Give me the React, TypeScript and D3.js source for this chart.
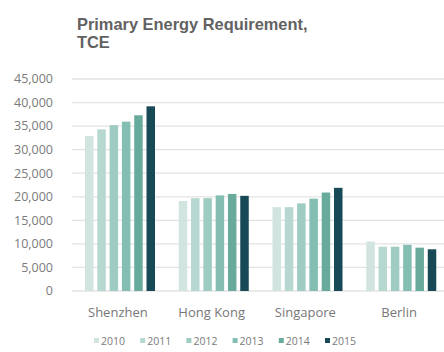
import React from "react";
import * as d3 from "d3";

const cities = ["Shenzhen", "Hong Kong", "Singapore", "Berlin"];
const years = ["2010", "2011", "2012", "2013", "2014", "2015"];
const v2010 = [32900, 19100, 17800, 10500];
const v2011 = [34300, 19700, 17800, 9400];
const v2012 = [35200, 19700, 18600, 9400];
const v2013 = [35950, 20300, 19600, 9800];
const v2014 = [37300, 20600, 20900, 9200];
const v2015 = [39200, 20200, 21900, 8850];
const yTicks = [0, 5000, 10000, 15000, 20000, 25000, 30000, 35000, 40000, 45000];
const colors = ["#d2e4e0", "#b7d7d1", "#9ecbc2", "#84bdb1", "#68ab9d", "#174a56"];

const series = [v2010, v2011, v2012, v2013, v2014, v2015];

export default function App() {
  const W = 444, H = 352;
  const x0 = d3.scaleBand<string>().domain(cities).range([72, 447]).padding(0);
  const x1 = d3.scaleBand<string>().domain(years).range([13, 83]).paddingInner(0.31).paddingOuter(0);
  const y = d3.scaleLinear().domain([0, 45000]).range([291, 79]);
  const fmt = d3.format(",");
  const color = d3.scaleOrdinal<string, string>().domain(years).range(colors);
  const legendX = d3.scalePoint<string>().domain(years).range([96, 327]);

  return (
    <svg width={W} height={H} style={{ position: "absolute", left: 0, top: 0, background: "#fff" }}>
      <text x={77} y={30} fontFamily="Liberation Sans, Arial, sans-serif" fontWeight="bold" fontSize={16.4} fill="#626262">
        Primary Energy Requirement,
      </text>
      <text x={77} y={47.5} fontFamily="Liberation Sans, Arial, sans-serif" fontWeight="bold" fontSize={16.4} fill="#626262">
        TCE
      </text>
      {yTicks.map((t) => (
        <g key={t}>
          <line x1={72} x2={444} y1={y(t)} y2={y(t)} stroke="#e3e3e3" strokeWidth={1.3} />
          <text x={53} y={y(t)} dy="0.35em" textAnchor="end" fontFamily="Open Sans, sans-serif" fontSize={12.5} fill="#7a7a7a">
            {fmt(t)}
          </text>
        </g>
      ))}
      {cities.map((c, ci) => (
        <g key={c} transform={`translate(${x0(c)},0)`}>
          {years.map((yr, yi) => {
            const v = series[yi][ci];
            return (
              <rect key={yr} x={x1(yr)} y={y(v)} width={x1.bandwidth()} height={y(0) - y(v)} fill={color(yr)} />
            );
          })}
          <text x={x0.bandwidth() / 2 - 1} y={317} textAnchor="middle" fontFamily="Open Sans, sans-serif" fontSize={13} fill="#777">
            {c}
          </text>
        </g>
      ))}
      {years.map((yr) => (
        <g key={yr} transform={`translate(${legendX(yr)},341)`}>
          <rect x={-2} y={-3} width={5} height={5} fill={color(yr)} />
          <text x={5} y={0} dy="0.35em" fontFamily="Open Sans, sans-serif" fontSize={10.5} fill="#7a7a7a">
            {yr}
          </text>
        </g>
      ))}
    </svg>
  );
}
